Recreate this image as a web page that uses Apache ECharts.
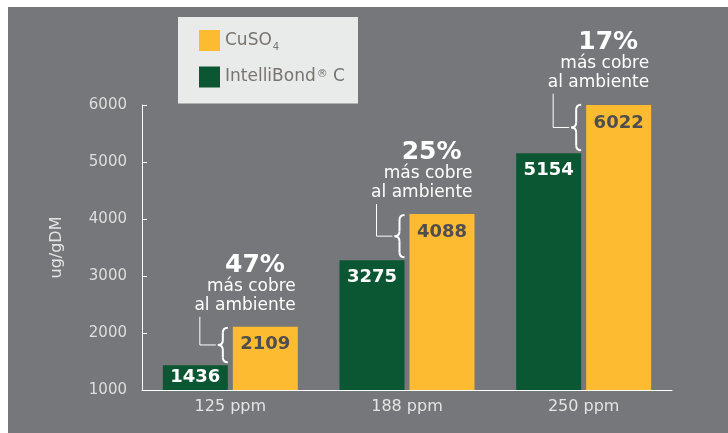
<!DOCTYPE html>
<html><head><meta charset="utf-8">
<script src="https://cdn.jsdelivr.net/npm/echarts@6/dist/echarts.min.js"></script>
<style>html,body{margin:0;padding:0;background:#fff;width:728px;height:433px;overflow:hidden}
#c{position:absolute;left:8px;top:7px;width:720px;height:426px;background:#76777a;}</style>
</head><body><div id="c"></div>
<script>
const categories = ['125 ppm', '188 ppm', '250 ppm'];
const intellibond = [1436, 3275, 5154];
const cuso4 = [2109, 4088, 6022];
const percents = ['47%', '25%', '17%'];
const noteLines = ['más cobre', 'al ambiente'];
const yMin = 1000, yMax = 6000, yStep = 1000;

const FONT = '"DejaVu Sans", sans-serif';
const GREEN = '#0c5733', YELLOW = '#fdbb32';
const chart = echarts.init(document.getElementById('c'));
const BW = 65, GAP = 5;

chart.setOption({
  animation: false,
  textStyle: { fontFamily: FONT },
  grid: { left: 134, top: 98, right: 56, bottom: 43 },
  legend: {
    left: 170, top: 10, orient: 'vertical',
    backgroundColor: '#e9eaea', padding: [13, 13, 16, 21],
    itemWidth: 21, itemHeight: 21, itemGap: 14, icon: 'rect',
    data: ['CuSO4', 'IntelliBond® C'],
    formatter: n => n === 'CuSO4' ? '{a|CuSO}{s|4}' : '{a|IntelliBond}{r|®}{a| C}',
    textStyle: {
      color: '#77746f',
      rich: {
        a: { fontSize: 17, fontFamily: FONT, color: '#77746f' },
        s: { fontSize: 10, fontFamily: FONT, color: '#77746f', padding: [14, 0, 0, 1] },
        r: { fontSize: 11, fontFamily: FONT, color: '#77746f', padding: [0, 0, 6, 1] }
      }
    }
  },
  xAxis: {
    type: 'category', data: categories,
    axisLine: { lineStyle: { color: '#ffffff', width: 1 } },
    axisTick: { show: false },
    axisLabel: { color: '#e4e4e4', fontSize: 16, margin: 9, fontFamily: FONT }
  },
  yAxis: {
    type: 'value', min: yMin, max: yMax, interval: yStep,
    name: 'ug/gDM', nameLocation: 'middle', nameGap: 77, nameRotate: 90,
    nameTextStyle: { color: '#e4e4e4', fontSize: 16, fontFamily: FONT },
    axisLine: { show: true, lineStyle: { color: '#ffffff', width: 1 } },
    axisTick: { show: true, inside: true, length: 5, lineStyle: { color: '#ffffff' } },
    splitLine: { show: false },
    axisLabel: { color: '#dedede', fontSize: 15, margin: 15, fontFamily: FONT, formatter: v => String(v) }
  },
  series: [
    {
      name: 'IntelliBond® C', type: 'bar', barWidth: BW, barGap: (GAP / BW * 100) + '%',
      clip: true,
      itemStyle: { color: GREEN },
      data: intellibond.map(v => ({ value: v, label: (v - yMin) < 700 ? { position: 'inside' } : undefined })),
      label: { show: true, position: 'insideTop', distance: 8, color: '#ffffff', fontSize: 18, fontWeight: 'bold', fontFamily: FONT }
    },
    {
      name: 'CuSO4', type: 'bar', barWidth: BW, clip: true,
      itemStyle: { color: YELLOW },
      data: cuso4,
      label: { show: true, position: 'insideTop', distance: 9, color: '#4e4d4f', fontSize: 18, fontWeight: 'bold', fontFamily: FONT }
    }
  ]
});

const g = [];
const W = { fill: null, stroke: '#fff', lineWidth: 2 };
categories.forEach((c, i) => {
  const cx = chart.convertToPixel({ xAxisIndex: 0 }, i);
  const yl = cx + GAP / 2;            // yellow bar left
  const yr = yl + BW;                 // yellow bar right
  const yt = chart.convertToPixel({ yAxisIndex: 0 }, cuso4[i]);
  const gt = chart.convertToPixel({ yAxisIndex: 0 }, intellibond[i]);
  const y0 = yt + 1, y1 = gt - 3, ym = (y0 + y1) / 2, r = 5;
  const xr = yl - 5, xm = yl - 10, xl = yl - 15;
  g.push({ type: 'bezierCurve', shape: { x1: xr, y1: y0, cpx1: xm, cpy1: y0, x2: xm, y2: y0 + r }, style: W });
  g.push({ type: 'line', shape: { x1: xm, y1: y0 + r, x2: xm, y2: ym - r }, style: W });
  g.push({ type: 'bezierCurve', shape: { x1: xm, y1: ym - r, cpx1: xm, cpy1: ym, x2: xl, y2: ym }, style: W });
  g.push({ type: 'bezierCurve', shape: { x1: xl, y1: ym, cpx1: xm, cpy1: ym, x2: xm, y2: ym + r }, style: W });
  g.push({ type: 'line', shape: { x1: xm, y1: ym + r, x2: xm, y2: y1 - r }, style: W });
  g.push({ type: 'bezierCurve', shape: { x1: xm, y1: y1 - r, cpx1: xm, cpy1: y1, x2: xr, y2: y1 }, style: W });
  g.push({ type: 'polyline', shape: { points: [[yl - 33, yt - 10], [yl - 33, ym], [xl - 2, ym]] }, style: { fill: null, stroke: '#fff', lineWidth: 1 } });
  g.push({ type: 'text', style: { text: noteLines[1], x: yr - 2, y: yt - 21, align: 'right', verticalAlign: 'middle', fill: '#fff', font: '17px ' + FONT } });
  g.push({ type: 'text', style: { text: noteLines[0], x: yr - 2, y: yt - 40, align: 'right', verticalAlign: 'middle', fill: '#fff', font: '17px ' + FONT } });
  g.push({ type: 'text', style: { text: percents[i], x: yr - 13, y: yt - 61, align: 'right', verticalAlign: 'middle', fill: '#fff', font: 'bold 25px ' + FONT } });
});
chart.setOption({ graphic: g });
</script></body></html>
